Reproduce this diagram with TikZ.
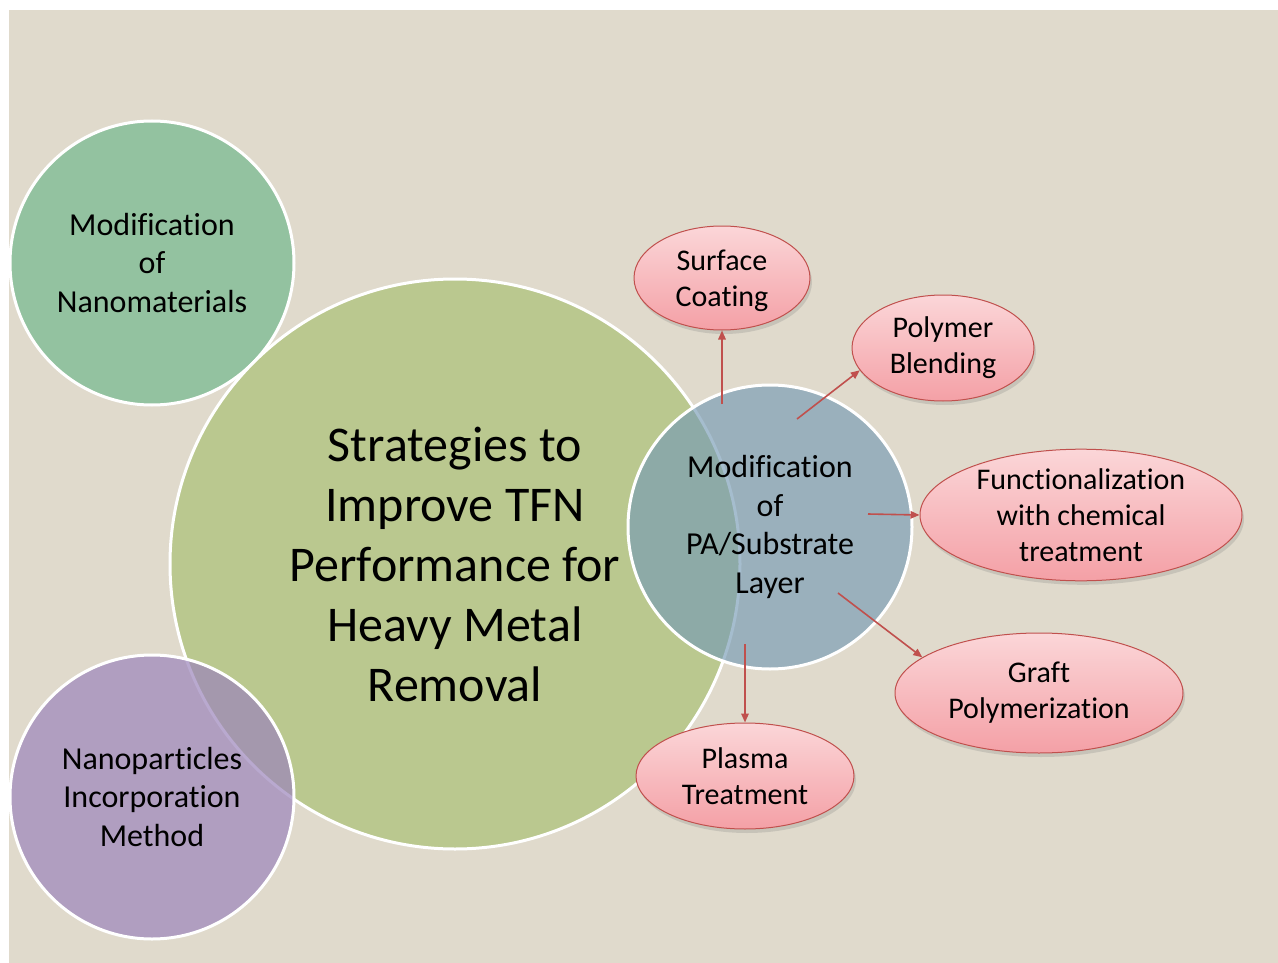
\documentclass[tikz,border=0pt]{standalone}
\usepackage{fontspec}
\setmainfont{Carlito}[Ligatures=NoCommon]
\usetikzlibrary{shapes.geometric,arrows.meta,shadows}
\definecolor{bg}{RGB}{224,218,204}
\definecolor{cgreen}{RGB}{147,194,160}
\definecolor{colive}{RGB}{186,200,143}
\definecolor{cpurple}{RGB}{156,133,187}
\definecolor{cblue}{RGB}{118,154,180}
\definecolor{pinktop}{RGB}{251,214,216}
\definecolor{pinkbot}{RGB}{244,160,166}
\definecolor{cred}{RGB}{192,80,77}
\tikzset{
  bubble/.style={circle, inner sep=0pt, draw=white, line width=3pt, align=center,
    text=black, font=\fontsize{32}{38.5}\selectfont},
  oval/.style={ellipse, inner sep=0pt, draw=cred, line width=1pt, align=center,
    top color=pinktop, bottom color=pinkbot,
    font=\fontsize{30}{36}\selectfont,
    drop shadow={opacity=0.25, shadow xshift=2pt, shadow yshift=-4pt}},
  link/.style={draw=cred, line width=1.6pt, -{Triangle[length=9pt,width=7.5pt]}}
}
\begin{document}
\begin{tikzpicture}[x=1pt,y=-1pt]
\useasboundingbox (0,0) rectangle (1278,963);
\fill[white] (0,0) rectangle (1278,963);
\fill[bg] (9,10) rectangle (1278,963);

\node[bubble, minimum size=284pt, fill=cgreen] (nano) at (152,263)
  {Modification\\of\\Nanomaterials};
\node[bubble, minimum size=570pt, fill=colive,
  font=\fontsize{50}{60}\selectfont] (core) at (455,564)
  {Strategies to\\Improve TFN\\Performance for\\Heavy Metal\\Removal};
\node[bubble, minimum size=284pt, fill=cpurple, fill opacity=0.7, text opacity=1] (incorp) at (152,797)
  {Nanoparticles\\Incorporation\\Method};
\node[bubble, minimum size=284pt, fill=cblue, fill opacity=0.65, text opacity=1] (pa) at (770,527)
  {Modification\\of\\PA/Substrate\\Layer};

\node[oval, minimum width=176pt, minimum height=104pt, text depth=-2pt] (surf) at (722,278) {Surface\\Coating};
\node[oval, minimum width=182pt, minimum height=106pt] (poly) at (943,348) {Polymer\\Blending};
\node[oval, minimum width=322pt, minimum height=126pt] (func) at (1081,515) {Functionalization\\with chemical\\treatment};
\node[oval, minimum width=288pt, minimum height=120pt] (graft) at (1039,693) {Graft\\Polymerization};
\node[oval, minimum width=218pt, minimum height=106pt] (plasma) at (745,776) {Plasma\\Treatment};

\coordinate (sA) at (722,404);
\coordinate (pA) at (797,419);
\coordinate (fA) at (868,514);
\coordinate (gA) at (838,593);
\coordinate (plA) at (745,644);

\draw[link] (sA) -- (surf.south);
\draw[link] (pA) -- (poly.195);
\draw[link] (fA) -- (func.west);
\draw[link] (gA) -- (graft.163);
\draw[link] (plA) -- (plasma.north);
\end{tikzpicture}
\end{document}
